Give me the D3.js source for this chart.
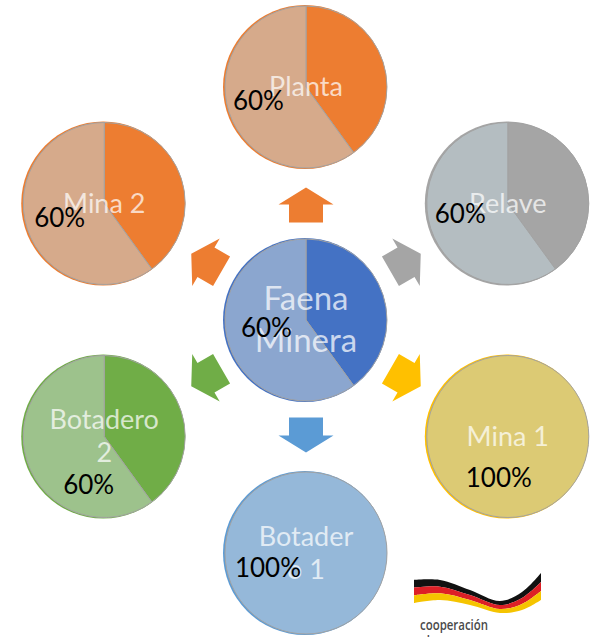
<!DOCTYPE html>
<html lang="es">
<head>
<meta charset="UTF-8">
<title>Faena Minera</title>
<script src="https://cdn.jsdelivr.net/npm/d3@7"></script>
<style>
  html, body { margin: 0; padding: 0; background: #fff; }
  svg { display: block; }
</style>
</head>
<body>
<script>
// datos: un pie por componente de la faena
var names = ["Faena Minera", "Planta", "Relave", "Mina 1", "Botadero 1", "Botadero 2", "Mina 2"];
var nameLines = [["Faena", "Minera"], ["Planta"], ["Relave"], ["Mina 1"], ["Botader", "o 1"], ["Botadero", "2"], ["Mina 2"]];
var darkShare = [40, 40, 40, 0, 0, 40, 40];
var lightShare = [60, 60, 60, 100, 100, 60, 60];
var pctLabels = ["60%", "60%", "60%", "100%", "100%", "60%", "60%"];

// colores
var darkColor = ["#4472C4", "#ED7D31", "#A5A5A5", "#FFC000", "#5B9BD5", "#70AD47", "#ED7D31"];
var lightColor = ["#8BA6CF", "#D6AA8B", "#B4BDC1", "#DCCA74", "#95B8D9", "#9DC28C", "#D6AA8B"];

// layout: angulo (grados, desde arriba, horario) de cada pie alrededor del centro
var ringAngle = [null, 0, 60, 120, 180, 240, 300];
var pctNudge = [[8, -6], [0, 0], [0, -4], [-9, -8], [-38, -34], [32, 34], [3, 0]];

var width = 598, height = 637;
var hub = { x: 306, y: 320 };
var ringR = 233;   // distancia centro -> pies
var arrowR = 115;  // distancia centro -> flechas
var pieR = 81;

var svg = d3.select("body").append("svg")
  .attr("width", width)
  .attr("height", height);

function place(a, d) {
  var rad = a * Math.PI / 180;
  return [hub.x + d * Math.sin(rad), hub.y - d * Math.cos(rad)];
}

// flechas
var arrowPts = [[0, -17.5], [27.5, -0.5], [17, -0.5], [17, 17.5], [-17, 17.5], [-17, -0.5], [-27.5, -0.5]];
svg.selectAll("path.arrow")
  .data(d3.range(1, 7))
  .enter()
  .append("path")
  .attr("class", "arrow")
  .attr("fill", function(i) { return darkColor[i]; })
  .attr("d", d3.line()(arrowPts) + "Z")
  .attr("transform", function(i) {
    var p = place(ringAngle[i], arrowR);
    return "translate(" + p[0] + "," + p[1] + ") rotate(" + ringAngle[i] + ")";
  });

var pie = d3.pie().sort(null);
var arc = d3.arc().innerRadius(0).outerRadius(pieR);
var labelArc = d3.arc().innerRadius(50).outerRadius(50);

var g = svg.selectAll("g.pie")
  .data(d3.range(names.length))
  .enter()
  .append("g")
  .attr("class", "pie")
  .attr("transform", function(i) {
    var p = i === 0 ? [hub.x, hub.y] : place(ringAngle[i], ringR);
    return "translate(" + p[0] + "," + p[1] + ")";
  });

// disco de fondo
g.append("circle")
  .attr("r", pieR + 1)
  .attr("cx", -1)
  .attr("fill", function(i) { return darkColor[i]; });

g.each(function(i) {
  var slices = pie([darkShare[i], lightShare[i]]);
  var sel = d3.select(this);
  sel.selectAll("path.slice")
    .data(slices)
    .enter()
    .append("path")
    .attr("class", "slice")
    .attr("d", arc)
    .attr("fill", function(d, j) { return j === 0 ? darkColor[i] : lightColor[i]; })
    .attr("stroke", "#A3A3A3")
    .attr("stroke-width", 1);

  // nombre
  var big = i === 0;
  var fs = big ? 33 : 27;
  var lh = big ? 42 : 33;
  var lines = nameLines[i];
  var t = sel.append("text")
    .attr("text-anchor", "middle")
    .attr("font-family", "Lato, 'Open Sans', sans-serif")
    .attr("font-size", fs)
    .attr("fill", "#ffffff")
    .attr("fill-opacity", 0.72);
  lines.forEach(function(line, k) {
    t.append("tspan")
      .attr("x", 0)
      .attr("y", (k - (lines.length - 1) / 2) * lh + fs * 0.34)
      .text(line);
  });

  // porcentaje
  var c = labelArc.centroid(slices[1]);
  sel.append("text")
    .attr("x", c[0] + pctNudge[i][0])
    .attr("y", c[1] + pctNudge[i][1] + 8)
    .attr("text-anchor", "middle")
    .attr("font-family", "Lato, 'Open Sans', sans-serif")
    .attr("font-size", 26)
    .attr("fill", "#000")
    .text(pctLabels[i]);
});

// logo cooperacion alemana
var logo = svg.append("g").attr("class", "logo");
var ribbonX = [414, 440, 470, 500, 522, 541];
var ribbonTop = [580, 580, 590, 601, 592, 573];
var ribbonH = [23, 20, 15, 12, 18, 27];
var stripes = ["#111111", "#DD1F26", "#F5C400"];
stripes.forEach(function(col, s) {
  var area = d3.area()
    .x(function(d) { return d[0]; })
    .y0(function(d) { return d[1] + d[2] * s / 3; })
    .y1(function(d) { return d[1] + d[2] * (s + 1) / 3; })
    .curve(d3.curveCatmullRom);
  logo.append("path")
    .attr("fill", col)
    .attr("d", area(ribbonX.map(function(x, k) { return [x, ribbonTop[k], ribbonH[k]]; })));
});
[["cooperación", 630], ["alemana", 646]].forEach(function(row) {
  logo.append("text")
    .attr("x", 420).attr("y", row[1])
    .attr("font-family", "'Open Sans', sans-serif")
    .attr("font-size", 15)
    .attr("font-weight", 600)
    .attr("fill", "#4a4a4a")
    .attr("textLength", row[0] === "cooperación" ? 68 : 48)
    .attr("lengthAdjust", "spacingAndGlyphs")
    .text(row[0]);
});
</script>
</body>
</html>
